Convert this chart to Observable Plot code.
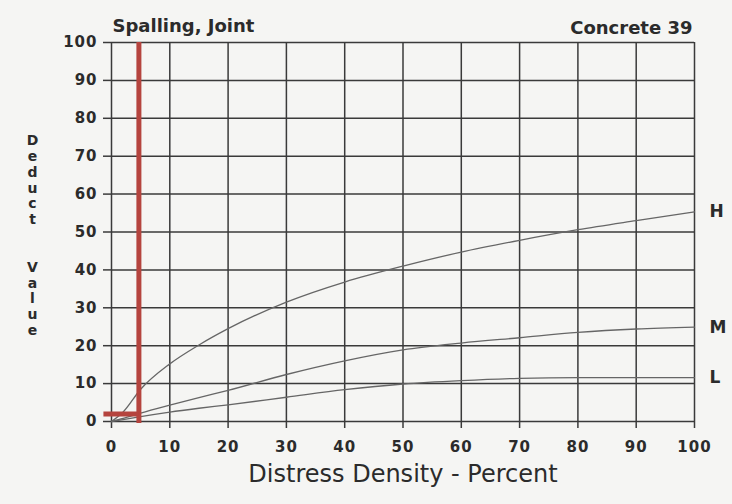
<!DOCTYPE html>
<html><head><meta charset="utf-8">
<script src="https://cdn.jsdelivr.net/npm/d3@7"></script>
<script src="https://cdn.jsdelivr.net/npm/@observablehq/plot@0.6"></script>
<style>
html,body{margin:0;padding:0;background:#f5f5f3;}
#chart g[aria-label="y-axis tick label"] text,
#chart g[aria-label="x-axis tick label"] text{letter-spacing:1px;}
</style></head><body><div id="chart"></div>
<script>
const density = [0, 2, 5, 10, 15, 20, 30, 40, 50, 60, 70, 80, 90, 100];
const highValues = [0, 2.5, 8.5, 15.2, 20.2, 24.5, 31.5, 36.8, 41, 44.7, 47.8, 50.6, 53, 55.3];
const mediumValues = [0, 0.8, 2.2, 4.3, 6.3, 8.2, 12.4, 16, 18.9, 20.7, 22.1, 23.5, 24.4, 24.9];
const lowValues = [0, 0.5, 1.3, 2.5, 3.5, 4.4, 6.4, 8.4, 9.9, 10.8, 11.4, 11.6, 11.6, 11.6];
const severities = ["H", "M", "L"];
const xTicks = [0, 10, 20, 30, 40, 50, 60, 70, 80, 90, 100];
const yTicks = [0, 10, 20, 30, 40, 50, 60, 70, 80, 90, 100];
const markerDensity = 4.7;
const markerDeduct = 2;
const title = "Spalling, Joint";
const subtitle = "Concrete 39";
const xLabel = "Distress Density - Percent";
const yLabel = "Deduct Value";

const seriesValues = [highValues, mediumValues, lowValues];
const rows = [];
seriesValues.forEach((vals, i) => vals.forEach((v, j) => rows.push({severity: severities[i], x: density[j], y: v})));
const ends = severities.map((s, i) => ({severity: s, x: density[density.length - 1], y: seriesValues[i][seriesValues[i].length - 1]}));
const stackedY = yLabel.split(" ").map(w => w.split("").join("\n")).join("\n\n\n");

const gridColor = "#3a3a3a";
const red = "#b5443e";
const plot = Plot.plot({
  width: 732, height: 504,
  marginLeft: 111, marginRight: 38, marginTop: 42, marginBottom: 83,
  x: {domain: [0, 100]},
  y: {domain: [0, 100]},
  style: {background: "#f5f5f3", fontFamily: "DejaVu Sans", color: "#2b2b2b", overflow: "visible"},
  marks: [
    Plot.ruleY(yTicks, {x1: 0, x2: 100, stroke: gridColor, strokeWidth: 1.5}),
    Plot.ruleX(xTicks, {y1: 0, y2: 100, stroke: gridColor, strokeWidth: 1.5}),
    Plot.axisY({ticks: yTicks, tickSize: 8, tickPadding: 6, stroke: gridColor, strokeWidth: 1.5, strokeOpacity: 1, fontSize: 15, fontWeight: "bold", label: null}),
    Plot.axisX({ticks: xTicks, tickSize: 7, tickPadding: 13, stroke: gridColor, strokeWidth: 1.5, strokeOpacity: 1, fontSize: 15, fontWeight: "bold", label: null}),
    Plot.line(rows, {x: "x", y: "y", z: "severity", stroke: "#666", strokeWidth: 1.3, curve: "monotone-x"}),
    Plot.text(ends, {x: "x", y: "y", text: "severity", dx: 15, textAnchor: "start", fontSize: 17, fontWeight: "bold", fill: "#2b2b2b"}),
    Plot.ruleX([markerDensity], {y1: -0.5, y2: 100, stroke: red, strokeWidth: 5}),
    Plot.ruleY([markerDeduct], {x1: -1.3, x2: markerDensity, stroke: red, strokeWidth: 5}),
    Plot.text([title], {frameAnchor: "top-left", textAnchor: "start", dx: 1, dy: -22.8, fontSize: 18, fontWeight: "bold", fill: "#2b2b2b"}),
    Plot.text([subtitle], {frameAnchor: "top-right", textAnchor: "end", dx: -2, dy: -20.8, fontSize: 18, fontWeight: "bold", fill: "#2b2b2b"}),
    Plot.text([xLabel], {frameAnchor: "bottom", dy: 60, fontSize: 24, fill: "#2b2b2b"}),
    Plot.text([stackedY], {frameAnchor: "left", dx: -79, dy: 3, textAnchor: "middle", lineHeight: 1.13, fontSize: 14, fontWeight: "bold", fill: "#2b2b2b"})
  ]
});
document.getElementById("chart").appendChild(plot);
</script></body></html>
